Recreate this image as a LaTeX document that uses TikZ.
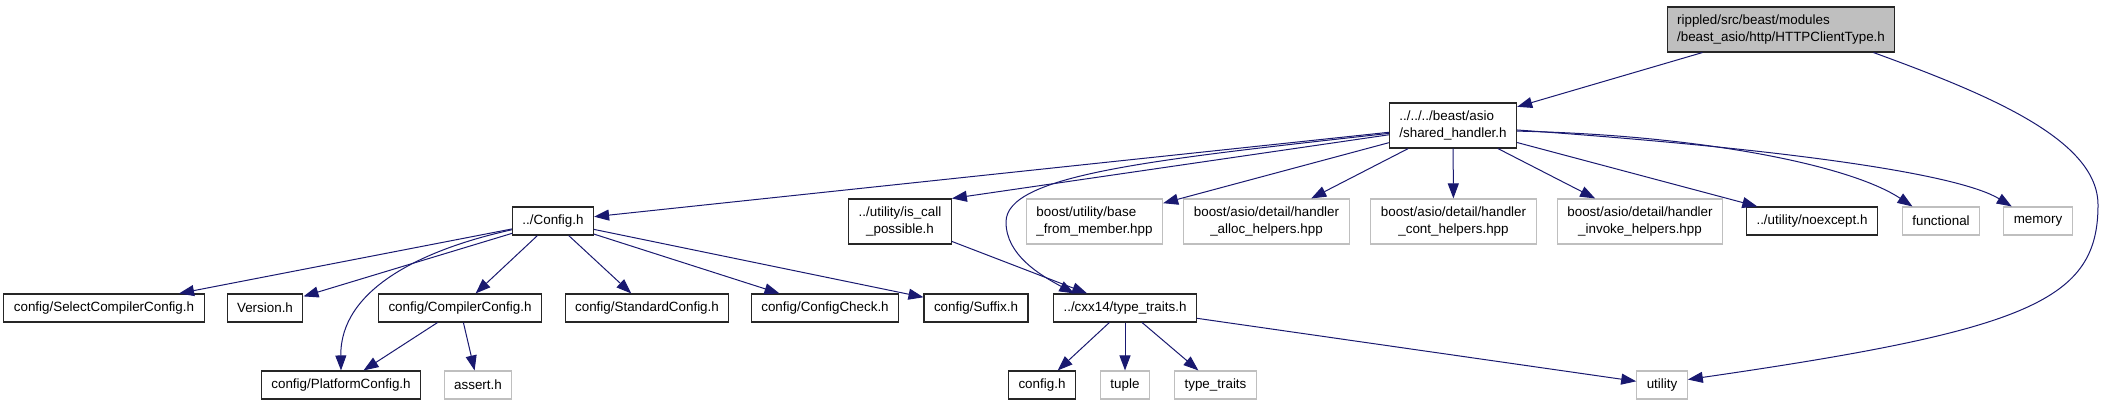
\documentclass[tikz,border=0pt]{standalone}
\usepackage{fontspec}
\setmainfont{Liberation Sans}
\usetikzlibrary{arrows.meta}
\definecolor{edgeblue}{RGB}{25,25,112}
\definecolor{grey75}{RGB}{191,191,191}

\begin{document}
\begin{tikzpicture}[
  x=1pt, y=-1pt,
  >={Triangle[length=15pt,width=11pt]},
  box/.style={draw=black!85, line width=1.1pt, inner xsep=10pt, inner ysep=0pt,
    minimum height=28pt, font=\fontsize{13.4}{17}\selectfont},
  box2/.style={box, minimum height=45pt},
  sysbox/.style={box, draw=grey75},
  sysbox2/.style={box2, draw=grey75},
  link/.style={->, color=edgeblue, line width=1pt}
]
\useasboundingbox (0,0) rectangle (2106,405);

% top rows
\node[box2, fill=grey75, align=left] (root) at (1781,29.5) {rippled/src/beast/modules\\/beast\_asio/http/HTTPClientType.h};
\node[box2, align=left] (shared) at (1453,125.5) {../../../beast/asio\\/shared\_handler.h};

\node[box] (config) at (553,221) {../Config.h};
\node[box2, align=center] (iscall) at (900,221.5) {../utility/is\_call\\\_possible.h};
\node[sysbox2, align=left] (basemem) at (1094.5,221.5) {boost/utility/base\\\_from\_member.hpp};
\node[sysbox2, align=center] (alloc) at (1266.5,221.5) {boost/asio/detail/handler\\\_alloc\_helpers.hpp};
\node[sysbox2, align=center] (cont) at (1453.5,221.5) {boost/asio/detail/handler\\\_cont\_helpers.hpp};
\node[sysbox2, align=center] (invoke) at (1640,221.5) {boost/asio/detail/handler\\\_invoke\_helpers.hpp};
\node[box] (noexcept) at (1812,221) {../utility/noexcept.h};
\node[sysbox] (functional) at (1941,221) {functional};
\node[sysbox] (memory) at (2038,221) {memory};

% third row
\node[box] (selcc) at (104,308) {config/SelectCompilerConfig.h};
\node[box] (version) at (265,308) {Version.h};
\node[box] (compcc) at (460,308) {config/CompilerConfig.h};
\node[box] (stdcc) at (647,308) {config/StandardConfig.h};
\node[box] (cfgcheck) at (825,308) {config/ConfigCheck.h};
\node[box] (suffix) at (976,308) {config/Suffix.h};
\node[box] (cxxtt) at (1125,308) {../cxx14/type\_traits.h};

% bottom row
\node[box] (platform) at (341,385) {config/PlatformConfig.h};
\node[sysbox] (assert) at (478,385) {assert.h};
\node[box] (cfgh) at (1042,385) {config.h};
\node[sysbox] (tuple) at (1125,385) {tuple};
\node[sysbox] (typetraits) at (1215.5,385) {type\_traits};
\node[sysbox] (utility) at (1662,385) {utility};

% includes
\draw[link] (root) -- (shared);
\draw[link] (root.-14) .. controls (1990,95) and (2098,140) .. (2098,205)
   .. controls (2098,300) and (2030,330) .. (utility.12);

\draw[link] (shared) -- (config);
\draw[link] (shared) -- (iscall.north east);
\draw[link] (shared.187) .. controls (1150,160) and (1006,175) .. (1006,222)
   .. controls (1006,255) and (1040,275) .. (cxxtt.164);
\draw[link] (shared) -- (basemem);
\draw[link] (shared) -- (alloc);
\draw[link] (shared) -- (cont);
\draw[link] (shared) -- (invoke);
\draw[link] (shared) -- (noexcept);
\draw[link] (shared.-5) .. controls (1700,135) and (1850,165) .. (functional.153);
\draw[link] (shared.-4) .. controls (1800,150) and (1960,175) .. (memory.151);

\draw[link] (config) -- (selcc);
\draw[link] (config) -- (version);
\draw[link] (config.192) .. controls (420,250) and (340,290) .. (platform.north);
\draw[link] (config) -- (compcc);
\draw[link] (config) -- (stdcc);
\draw[link] (config) -- (cfgcheck);
\draw[link] (config) -- (suffix);

\draw[link] (compcc) -- (platform);
\draw[link] (compcc) -- (assert);

\draw[link] (iscall) -- (cxxtt);

\draw[link] (cxxtt) -- (cfgh);
\draw[link] (cxxtt) -- (tuple);
\draw[link] (cxxtt) -- (typetraits);
\draw[link] (cxxtt) -- (utility);
\end{tikzpicture}
\end{document}
